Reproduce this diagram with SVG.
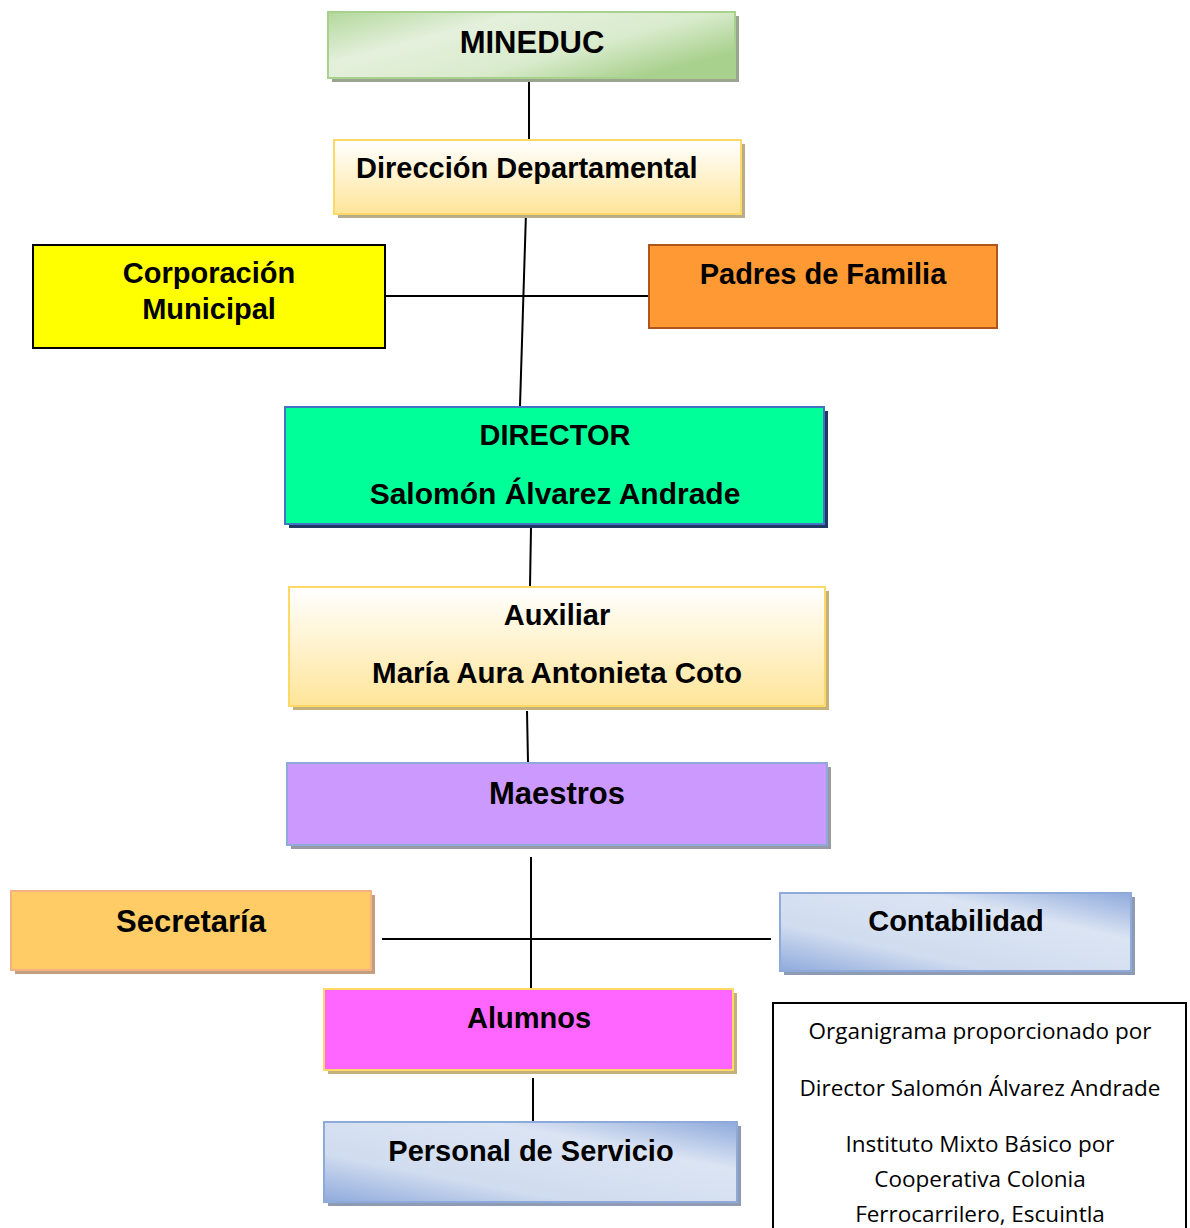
<svg xmlns="http://www.w3.org/2000/svg" width="1190" height="1228" viewBox="0 0 1190 1228">
<style>
.t{font-family:"Liberation Sans",Arial,sans-serif;font-weight:bold;fill:#000;text-anchor:middle}
.n{font-family:"Open Sans","Noto Sans",sans-serif;fill:#000;text-anchor:middle;font-size:22.5px}
.c{stroke:#000;stroke-width:2;fill:none}
</style>
<defs>
<linearGradient id="gGreen" x1="0" y1="0" x2="1" y2="0.6">
<stop offset="0" stop-color="#b3d89c"/>
<stop offset="0.35" stop-color="#e4f0dc"/>
<stop offset="0.7" stop-color="#d9ebcd"/>
<stop offset="1" stop-color="#a9d18e"/>
</linearGradient>
<linearGradient id="gGold" x1="0" y1="0" x2="0" y2="1">
<stop offset="0" stop-color="#ffffff"/>
<stop offset="1" stop-color="#ffe599"/>
</linearGradient>
<linearGradient id="gBlue" x1="0" y1="1" x2="1" y2="0">
<stop offset="0" stop-color="#8faadc"/>
<stop offset="0.3" stop-color="#d0dcef"/>
<stop offset="0.7" stop-color="#dbe4f3"/>
<stop offset="1" stop-color="#8faadc"/>
</linearGradient>
</defs>
<g id="connectors">
<line class="c" x1="529" y1="78" x2="529" y2="140"/>
<line class="c" x1="526" y1="212" x2="520" y2="406"/>
<line class="c" x1="385" y1="296" x2="649" y2="296"/>
<line class="c" x1="531" y1="528" x2="530" y2="586"/>
<line class="c" x1="527" y1="711" x2="528" y2="762"/>
<line class="c" x1="531" y1="857" x2="531" y2="988"/>
<line class="c" x1="382" y1="939" x2="771" y2="939"/>
<line class="c" x1="533" y1="1078" x2="533" y2="1121"/>
</g>
<g id="mineduc">
<rect x="332" y="16" width="407" height="66" fill="#9aa590"/>
<rect x="328" y="12" width="407" height="66" fill="url(#gGreen)" stroke="#a9d18e" stroke-width="2"/>
<text class="t" x="532" y="53" font-size="31">MINEDUC</text>
</g>
<g id="direccion-departamental">
<rect x="338" y="144" width="407" height="74" fill="#b8ad88"/>
<rect x="334" y="140" width="407" height="74" fill="url(#gGold)" stroke="#ffd966" stroke-width="2"/>
<text class="t" x="356" y="178" font-size="29" style="text-anchor:start">Dirección Departamental</text>
</g>
<g id="corporacion-municipal">
<rect x="33" y="245" width="352" height="103" fill="#ffff00" stroke="#000" stroke-width="2"/>
<text class="t" x="209" y="283" font-size="29">Corporación</text>
<text class="t" x="209" y="319" font-size="29">Municipal</text>
</g>
<g id="padres-de-familia">
<rect x="649" y="245" width="348" height="83" fill="#ff9933" stroke="#b0561a" stroke-width="2"/>
<text class="t" x="823" y="284" font-size="29">Padres de Familia</text>
</g>
<g id="director">
<rect x="289" y="411" width="539" height="117" fill="#1f3864"/>
<rect x="285" y="407" width="539" height="117" fill="#00ff99" stroke="#4472c4" stroke-width="2"/>
<text class="t" x="555" y="445" font-size="29">DIRECTOR</text>
<text class="t" x="555" y="504" font-size="30">Salomón Álvarez Andrade</text>
</g>
<g id="auxiliar">
<rect x="293" y="591" width="536" height="119" fill="#c4b07c"/>
<rect x="289" y="587" width="536" height="119" fill="url(#gGold)" stroke="#ffd966" stroke-width="2"/>
<text class="t" x="557" y="625" font-size="29">Auxiliar</text>
<text class="t" x="557" y="683" font-size="29.5">María Aura Antonieta Coto</text>
</g>
<g id="maestros">
<rect x="291" y="767" width="540" height="82" fill="#9a9aa6"/>
<rect x="287" y="763" width="540" height="82" fill="#cc99ff" stroke="#8eaadb" stroke-width="2"/>
<text class="t" x="557" y="804" font-size="31">Maestros</text>
</g>
<g id="secretaria">
<rect x="15" y="895" width="360" height="79" fill="#c2a07e"/>
<rect x="11" y="891" width="360" height="79" fill="#ffcc66" stroke="#f4b183" stroke-width="2"/>
<text class="t" x="191" y="932" font-size="31">Secretaría</text>
</g>
<g id="contabilidad">
<rect x="784" y="897" width="351" height="78" fill="#8e9bb2"/>
<rect x="780" y="893" width="351" height="78" fill="url(#gBlue)" stroke="#8eaadb" stroke-width="2"/>
<text class="t" x="956" y="931" font-size="29">Contabilidad</text>
</g>
<g id="alumnos">
<rect x="328" y="993" width="409" height="81" fill="#c4b07c"/>
<rect x="324" y="989" width="409" height="81" fill="#ff66ff" stroke="#ffd966" stroke-width="2"/>
<text class="t" x="529" y="1028" font-size="29">Alumnos</text>
</g>
<g id="personal-de-servicio">
<rect x="328" y="1126" width="413" height="80" fill="#8e9bb2"/>
<rect x="324" y="1122" width="413" height="80" fill="url(#gBlue)" stroke="#8eaadb" stroke-width="2"/>
<text class="t" x="531" y="1161" font-size="29">Personal de Servicio</text>
</g>
<g id="nota">
<rect x="773" y="1003" width="413" height="240" fill="#fff" stroke="#000" stroke-width="2"/>
<text class="n" x="980" y="1039">Organigrama proporcionado por</text>
<text class="n" x="980" y="1096">Director Salomón Álvarez Andrade</text>
<text class="n" x="980" y="1152">Instituto Mixto Básico por</text>
<text class="n" x="980" y="1187">Cooperativa Colonia</text>
<text class="n" x="980" y="1222">Ferrocarrilero, Escuintla</text>
</g>
</svg>
